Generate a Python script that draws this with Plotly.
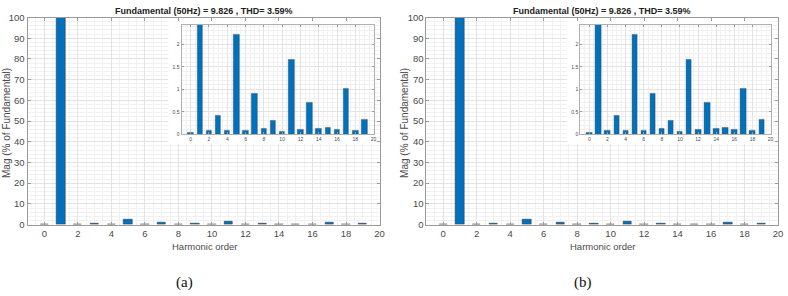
import plotly.graph_objects as go

harmonics = list(range(0, 20))
mag_pct = [0.04, 100.0, 0.08, 0.42, 0.08, 2.22, 0.09, 0.91, 0.13, 0.30,
           0.06, 1.67, 0.11, 0.70, 0.13, 0.15, 0.10, 1.02, 0.09, 0.33]
title_text = "Fundamental (50Hz) = 9.826 , THD= 3.59%"
main_xticks = list(range(0, 21, 2))
main_yticks = list(range(0, 101, 10))
inset_yticks = [0, 0.5, 1, 1.5, 2]
inset_ylabels = ["0", "0.5", "1", "1.5", "2"]
panel_labels = ["(a)", "(b)"]

W, H = 788, 296
BAR = "#0072BD"
EDGE = "#3a3a3a"
AX = "#9a9a9a"
TXT = "#4a4a4a"
GRID = "#e3e3e3"
MINOR = "#f1f1f1"
FONT = "Liberation Sans, Arial, sans-serif"

def px(x):
    return x / W

def py(y):
    return 1 - y / H

fig = go.Figure()

panels = [
    dict(main=(27.7, 382.0), inset=(182.7, 376.0), ytitle=6.5, label=185.5, title=205.5),
    dict(main=(429.2, 783.0), inset=(584.0, 775.5), ytitle=407.0, label=586.5, title=606.0),
]

main_y = (12.0, 227.0)
inset_y = (19.3, 133.3)

layout = dict(
    width=W, height=H,
    margin=dict(l=0, r=0, t=0, b=0),
    paper_bgcolor="white", plot_bgcolor="white",
    showlegend=False,
    font=dict(family=FONT, size=9, color=TXT),
    bargap=0,
)

annotations = []
shapes = []

for i, p in enumerate(panels):
    mi = 2 * i + 1
    ii = 2 * i + 2
    mx = "x" if mi == 1 else f"x{mi}"
    my = "y" if mi == 1 else f"y{mi}"
    ix = f"x{ii}"
    iy = f"y{ii}"

    fig.add_trace(go.Bar(
        x=harmonics, y=mag_pct, width=0.5, xaxis=mx, yaxis=my,
        marker=dict(color=BAR, line=dict(color=EDGE, width=0.6)),
        hoverinfo="skip"))
    fig.add_trace(go.Bar(
        x=harmonics, y=mag_pct, width=0.6, xaxis=ix, yaxis=iy,
        marker=dict(color=BAR, line=dict(color=EDGE, width=0.4)),
        hoverinfo="skip"))

    mxk = "xaxis" if mi == 1 else f"xaxis{mi}"
    myk = "yaxis" if mi == 1 else f"yaxis{mi}"
    layout[mxk] = dict(
        domain=[px(p["main"][0]), px(p["main"][1])], anchor=my,
        range=[-1, 20], tickvals=main_xticks, ticks="inside", ticklen=3,
        tickcolor=AX, showline=True, linecolor=AX, linewidth=1, mirror="allticks",
        showgrid=True, gridcolor=GRID, gridwidth=1, zeroline=False,
        minor=dict(dtick=0.5, showgrid=True, gridcolor=MINOR, ticks=""),
        tickfont=dict(size=9.5, color=TXT, family=FONT),
    )
    layout[myk] = dict(
        domain=[py(main_y[1]), py(main_y[0])], anchor=mx,
        range=[0, 100], tickvals=main_yticks, ticks="inside", ticklen=3,
        tickcolor=AX, showline=True, linecolor=AX, linewidth=1, mirror="allticks",
        showgrid=True, gridcolor=GRID, gridwidth=1, zeroline=False,
        minor=dict(dtick=2, showgrid=True, gridcolor=MINOR, ticks=""),
        tickfont=dict(size=9.5, color=TXT, family=FONT),
    )
    layout[f"xaxis{ii}"] = dict(
        domain=[px(p["inset"][0]), px(p["inset"][1])], anchor=iy,
        range=[-1, 20], tickvals=main_xticks, ticks="inside", ticklen=2,
        tickcolor=AX, showline=True, linecolor="#b0b0b0", linewidth=1, mirror="allticks",
        showgrid=True, gridcolor=GRID, gridwidth=1, zeroline=False,
        minor=dict(dtick=0.5, showgrid=True, gridcolor=MINOR, ticks=""),
        tickfont=dict(size=5, color=TXT, family=FONT),
    )
    layout[f"yaxis{ii}"] = dict(
        domain=[py(inset_y[1]), py(inset_y[0])], anchor=ix,
        range=[0, 2.436], tickvals=inset_yticks, ticktext=inset_ylabels,
        ticks="inside", ticklen=2,
        tickcolor=AX, showline=True, linecolor="#b0b0b0", linewidth=1, mirror="allticks",
        showgrid=True, gridcolor=GRID, gridwidth=1, zeroline=False,
        minor=dict(dtick=0.1, showgrid=True, gridcolor=MINOR, ticks=""),
        tickfont=dict(size=5, color=TXT, family=FONT),
    )

    shapes.append(dict(type="rect", xref=mx, yref=my, x0=7.4, x1=19.7, y0=39, y1=100,
                       fillcolor="white", line=dict(width=0), layer="between"))

    annotations.append(dict(text=f"<b>{title_text}</b>", xref="paper", yref="paper",
                            x=px(p["title"]), y=py(5.5), showarrow=False,
                            xanchor="center", yanchor="middle",
                            font=dict(size=9, color="#222222", family=FONT)))
    annotations.append(dict(text="Harmonic order", xref="paper", yref="paper",
                            x=px(p["title"]), y=py(250), showarrow=False,
                            xanchor="center", yanchor="middle",
                            font=dict(size=9.5, color=TXT, family=FONT)))
    annotations.append(dict(text="Mag (% of Fundamental)", xref="paper", yref="paper",
                            x=px(p["ytitle"]), y=py(121), showarrow=False, textangle=-90,
                            xanchor="center", yanchor="middle",
                            font=dict(size=10, color=TXT, family=FONT)))
    annotations.append(dict(text=panel_labels[i], xref="paper", yref="paper",
                            x=px(p["label"]), y=py(287), showarrow=False,
                            xanchor="center", yanchor="middle",
                            font=dict(size=15, color="#111111",
                                      family="Liberation Serif, Times New Roman, serif")))

layout["annotations"] = annotations
layout["shapes"] = shapes
fig.update_layout(**layout)
fig.write_html("out.html")
